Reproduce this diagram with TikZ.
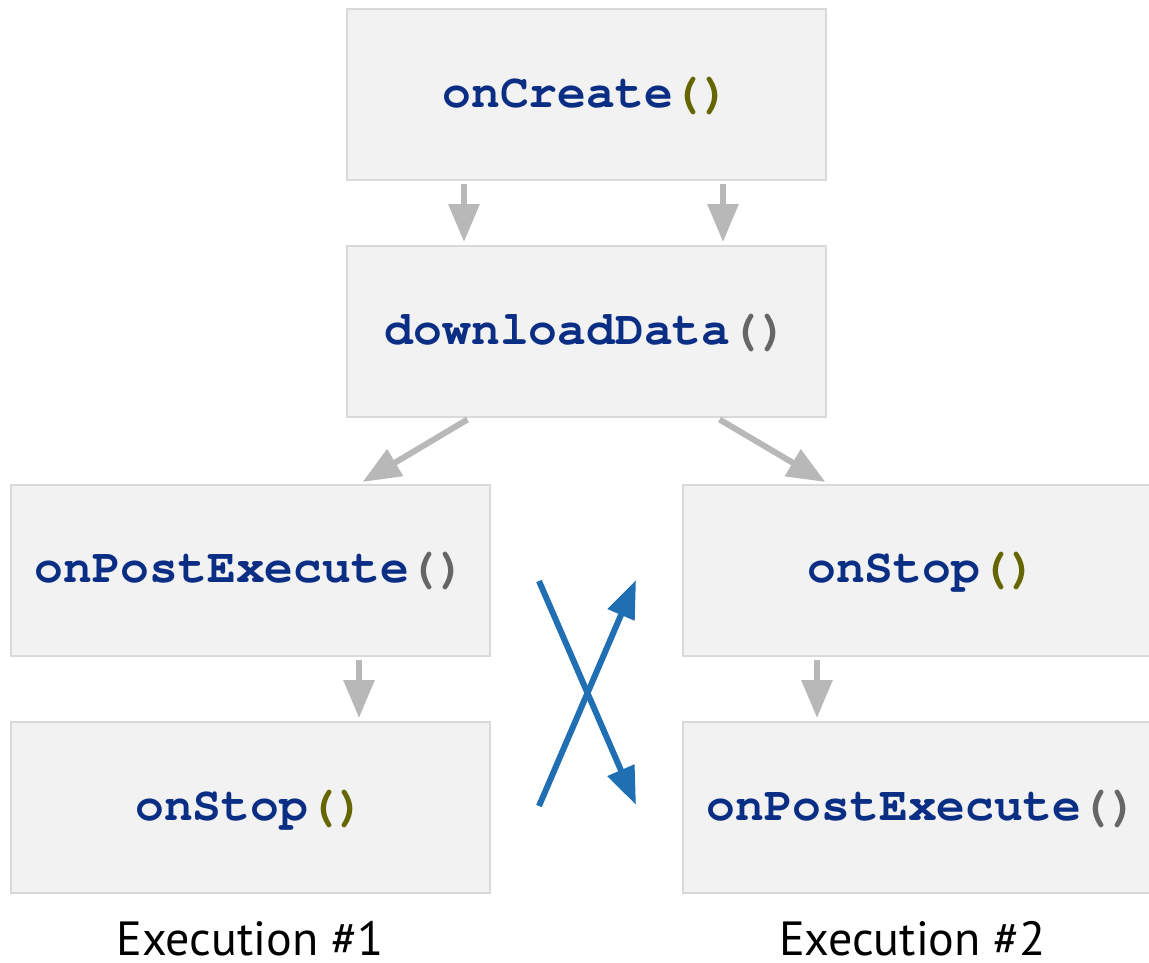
\documentclass[tikz,border=0pt]{standalone}
\usepackage{fontspec}
\setmainfont{PT Sans}
\newfontfamily\codefont{TeX Gyre Cursor}
\usetikzlibrary{arrows.meta}
\definecolor{boxfill}{HTML}{F2F2F2}
\definecolor{boxline}{HTML}{D9D9D9}
\definecolor{arrowgray}{HTML}{B8B8B8}
\definecolor{codeblue}{HTML}{0B2E85}
\definecolor{parolive}{HTML}{666600}
\definecolor{pargray}{HTML}{666666}
\definecolor{swapblue}{HTML}{1F6FB2}
\newcommand{\callO}[1]{\textcolor{codeblue}{#1}\textcolor{parolive}{()}}
\newcommand{\callG}[1]{\textcolor{codeblue}{#1}\textcolor{pargray}{()}}
\tikzset{
  method/.style={draw=boxline, line width=2pt, fill=boxfill, rectangle,
    minimum width=479pt, minimum height=171pt, inner sep=0pt,
    font=\codefont\bfseries\fontsize{48}{52}\selectfont,
    text height=34pt, text depth=9pt},
  flow/.style={draw=arrowgray, line width=6pt,
    -{Triangle[length=38pt,width=30pt]}, shorten <=3pt, shorten >=3pt},
  swap/.style={draw=swapblue, line width=6pt,
    -{Triangle[length=38pt,width=28pt]}},
  caption/.style={font=\fontsize{48}{52}\selectfont, text=black, anchor=base}
}
\begin{document}
\begin{tikzpicture}[x=1pt, y=-1pt]
  \useasboundingbox (0,0) rectangle (1149,962);
  \clip (0,0) rectangle (1149,962);

  % shared start
  \node[method] (create) at (586.5,94.5) {\callO{onCreate}};
  \node[method] (download) at (586.5,331.5) {\callG{downloadData}};

  % execution #1
  \node[method] (post1) at (250.5,570) {\callG{onPostExecute}};
  \node[method] (stop1) at (250.5,807.5) {\callO{onStop}};

  % execution #2
  \node[method] (stop2) at (922.5,570) {\callO{onStop}};
  \node[method] (post2) at (922.5,807.5) {\callG{onPostExecute}};

  % flow connectors
  \draw[flow] ([xshift=-122.5pt]create.south) -- ([xshift=-122.5pt]download.north);
  \draw[flow] ([xshift=136.5pt]create.south) -- ([xshift=136.5pt]download.north);
  \draw[flow] ([xshift=-116.5pt]download.south) -- ([xshift=109.5pt]post1.north);
  \draw[flow] ([xshift=130.5pt]download.south) -- ([xshift=-94.5pt]stop2.north);
  \draw[flow] ([xshift=108.5pt]post1.south) -- ([xshift=108.5pt]stop1.north);
  \draw[flow] ([xshift=-105.5pt]stop2.south) -- ([xshift=-105.5pt]post2.north);

  % crossing of the two orders
  \coordinate (xa) at (539,581);
  \coordinate (xb) at (636,805);
  \coordinate (xc) at (539,806);
  \coordinate (xd) at (636,580);
  \draw[swap] (xa) -- (xb);
  \draw[swap] (xc) -- (xd);

  % column captions
  \node[caption] (cap1) at (250,955) {Execution \#1};
  \node[caption] (cap2) at (912.5,955) {Execution \#2};
\end{tikzpicture}
\end{document}
